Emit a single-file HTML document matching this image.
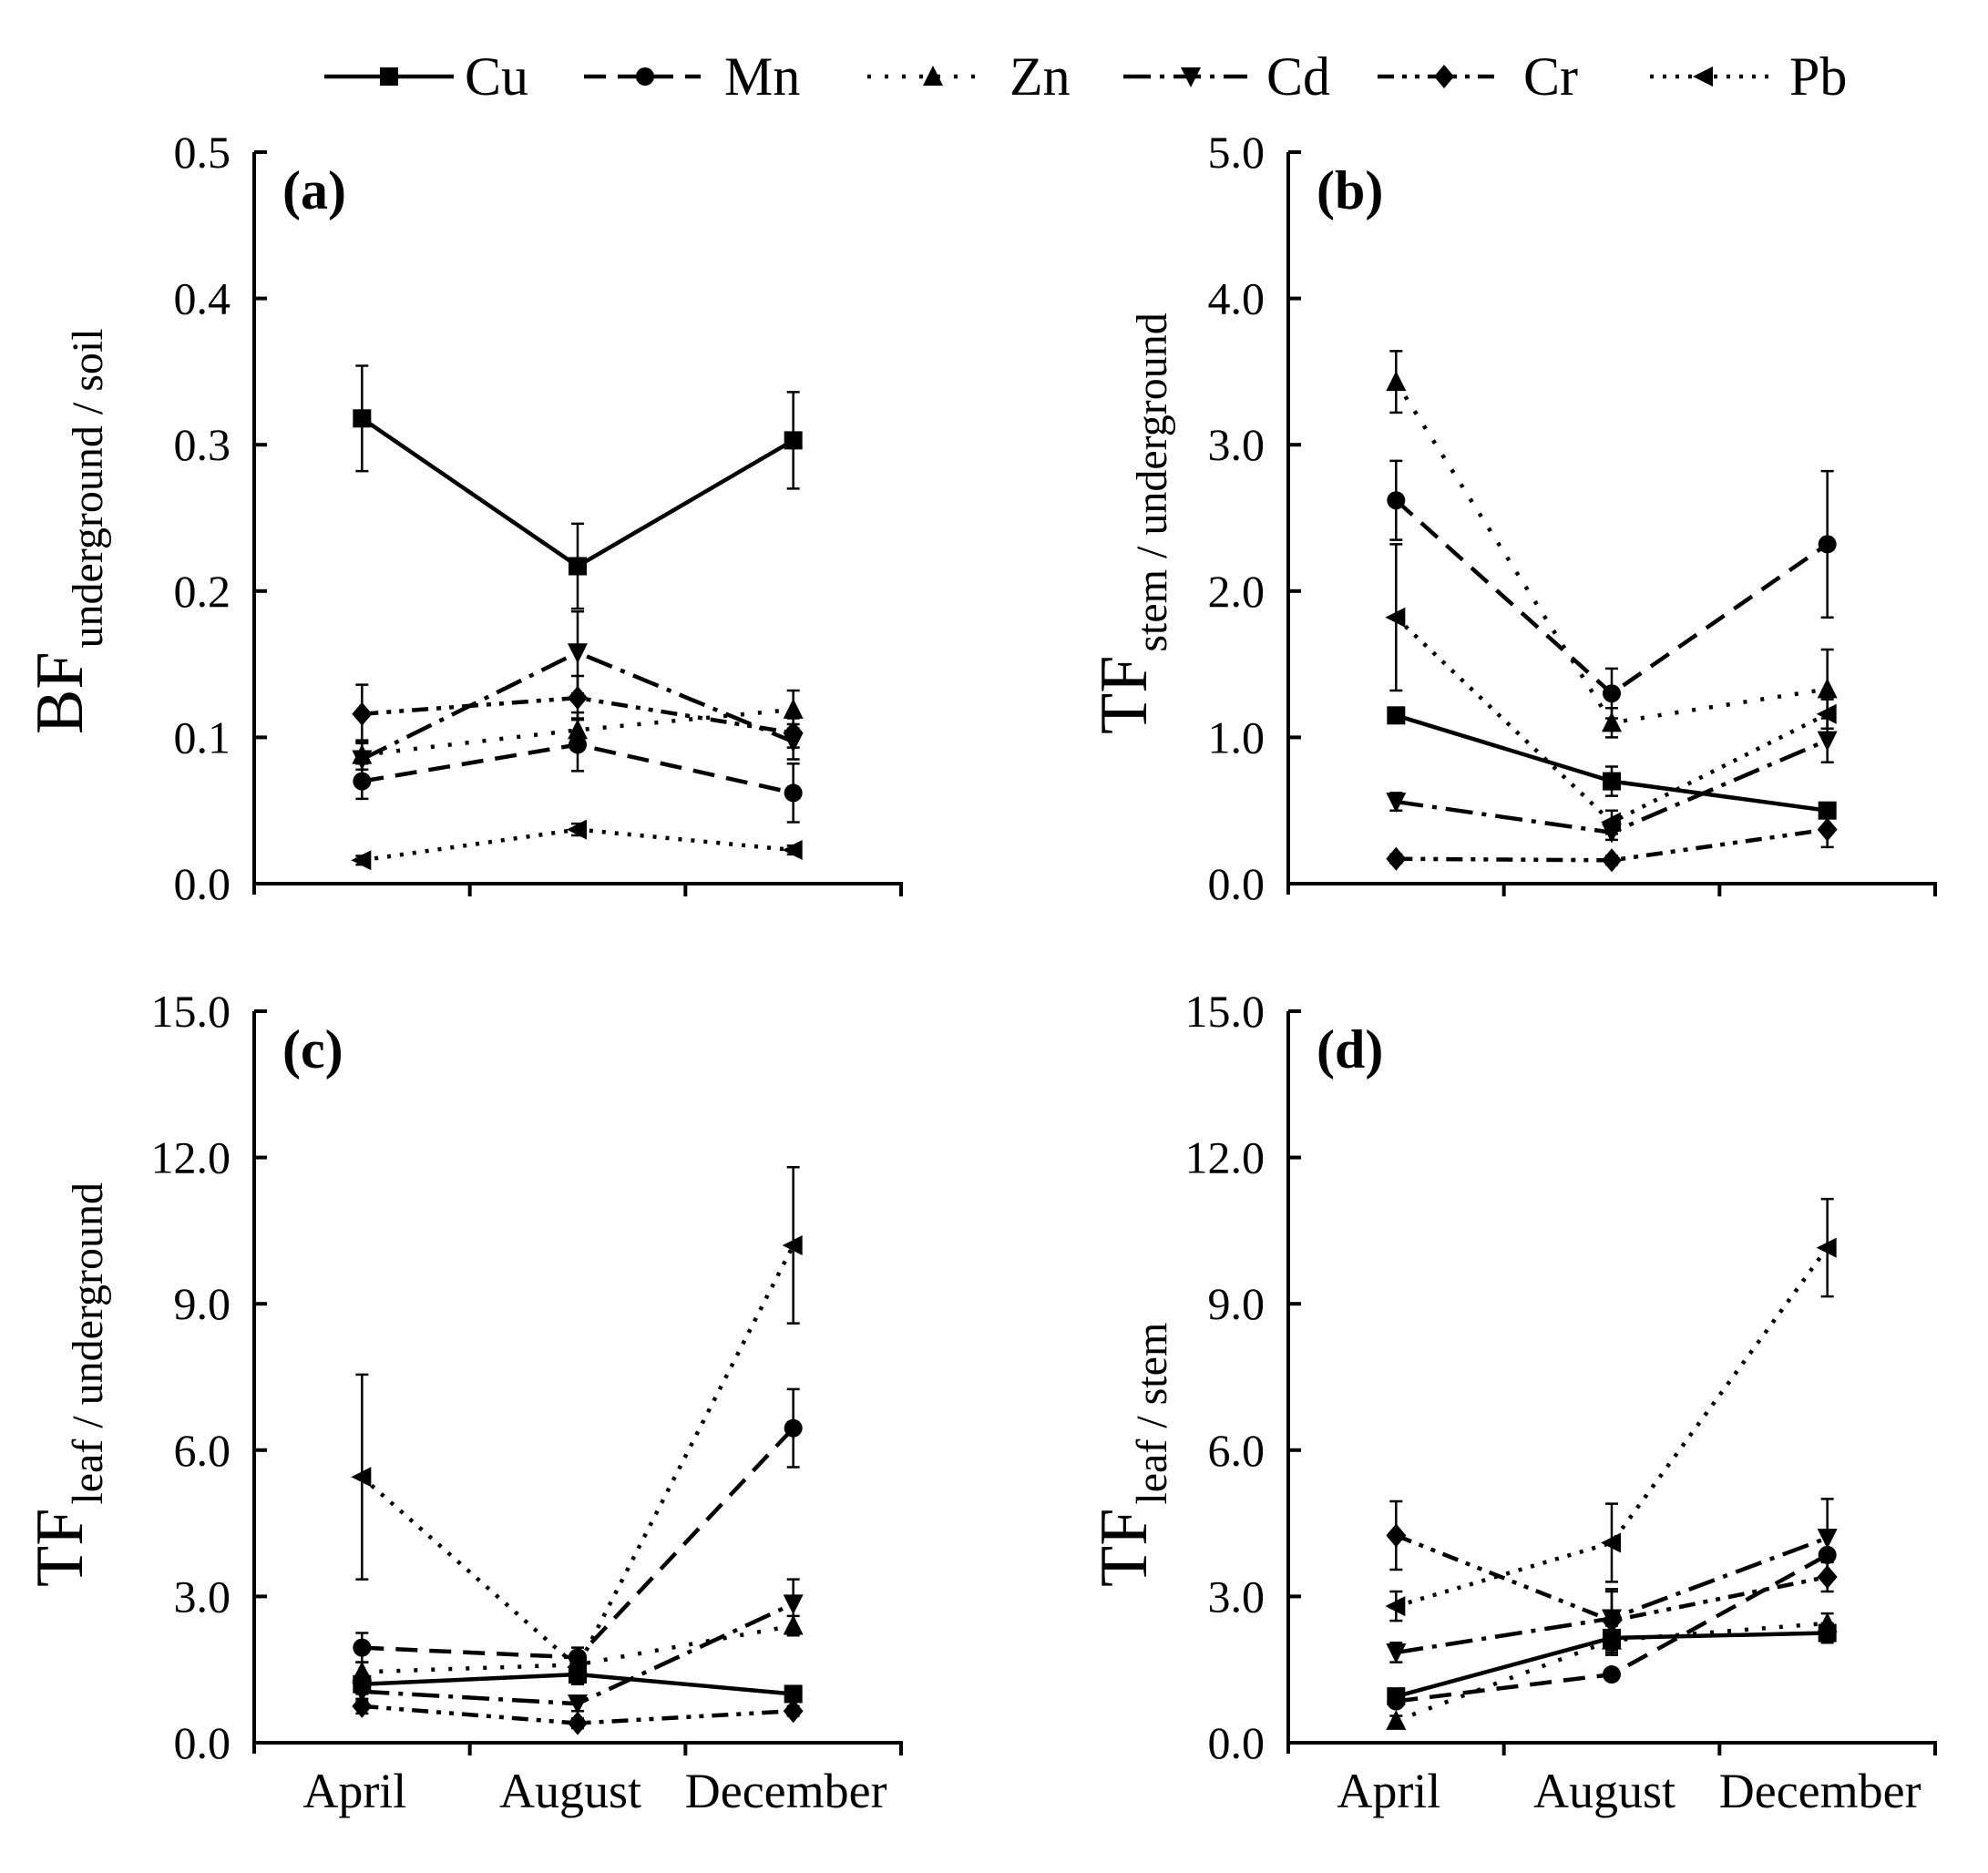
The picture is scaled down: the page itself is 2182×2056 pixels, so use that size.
<!DOCTYPE html>
<html><head><meta charset="utf-8"><style>
html,body{margin:0;padding:0;background:#fff;}
svg{display:block;font-family:"Liberation Serif",serif;}
</style></head>
<body>
<svg id="fig" width="2182" height="2056" viewBox="0 0 2182 2056" xmlns="http://www.w3.org/2000/svg">
<g id="legend"></g>
<g id="panels"></g>
</svg>
<script>
// ---- data ----
const categories = ["April","August","December"];
const metals = ["Cu","Mn","Zn","Cd","Cr","Pb"];
// panel (a) BF underground/soil
const aCu=[0.318,0.217,0.303], aMn=[0.070,0.095,0.062], aZn=[0.088,0.105,0.119], aCd=[0.085,0.158,0.097], aCr=[0.116,0.127,0.103], aPb=[0.016,0.037,0.023];
const aErrCu=[0.036,0.029,0.033], aErrMn=[0.012,0.018,0.020], aErrZn=[0.010,0.012,0.013], aErrCd=[0.012,0.028,0.012], aErrCr=[0.020,0.015,0.010], aErrPb=[0.003,0.004,0.003];
// panel (b) TF stem/underground
const bCu=[1.15,0.70,0.50], bMn=[2.62,1.30,2.32], bZn=[3.43,1.10,1.33], bCd=[0.56,0.35,0.98], bCr=[0.17,0.16,0.37], bPb=[1.82,0.42,1.16];
const bErrCu=[0.05,0.10,0.05], bErrMn=[0.27,0.17,0.50], bErrZn=[0.21,0.10,0.27], bErrCd=[0.06,0.05,0.15], bErrCr=[0.03,0.03,0.12], bErrPb=[0.50,0.08,0.10];
// panel (c) TF leaf/underground
const cCu=[1.2,1.4,1.0], cMn=[1.95,1.75,6.45], cZn=[1.45,1.6,2.4], cCd=[1.05,0.8,2.85], cCr=[0.75,0.4,0.65], cPb=[5.45,1.55,10.2];
const cErrCu=[0.2,0.2,0.1], cErrMn=[0.3,0.2,0.8], cErrZn=[0.2,0.2,0.2], cErrCd=[0.2,0.15,0.5], cErrCr=[0.15,0.1,0.1], cErrPb=[2.1,0.25,1.6];
// panel (d) TF leaf/stem
const dCu=[0.95,2.15,2.25], dMn=[0.85,1.4,3.85], dZn=[0.45,2.1,2.45], dCd=[1.85,2.55,4.2], dCr=[4.25,2.5,3.4], dPb=[2.8,4.1,10.15];
const dErrCu=[0.15,0.3,0.2], dErrMn=[0.1,0.1,0.4], dErrZn=[0.1,0.3,0.2], dErrCd=[0.2,0.6,0.8], dErrCr=[0.7,0.6,0.3], dErrPb=[0.3,0.8,1.0];
const ticksA=["0.0","0.1","0.2","0.3","0.4","0.5"];
const ticksB=["0.0","1.0","2.0","3.0","4.0","5.0"];
const ticksCD=["0.0","3.0","6.0","9.0","12.0","15.0"];

const NS="http://www.w3.org/2000/svg";
function mk(tag,attrs,parent){const e=document.createElementNS(NS,tag);for(const k in attrs)e.setAttribute(k,attrs[k]);parent.appendChild(e);return e;}
const styles={
 Cu:{dash:"none",w:4.5},
 Mn:{dash:"24,13",w:4.5},
 Zn:{dash:"4,15",w:4.5},
 Cd:{dash:"30,10,5,10",w:4.5},
 Cr:{dash:"18,9,5,9,5,9",w:4.5},
 Pb:{dash:"4,10",w:4.5}
};
function marker(m,x,y,parent){
 const s=10;let e;
 if(m==="Cu") e=mk("rect",{x:x-s,y:y-s,width:2*s,height:2*s,fill:"#000"},parent);
 else if(m==="Mn") e=mk("circle",{cx:x,cy:y,r:s,fill:"#000"},parent);
 else if(m==="Zn") e=mk("polygon",{points:`${x},${y-s-2} ${x-s-1},${y+s} ${x+s+1},${y+s}`,fill:"#000"},parent);
 else if(m==="Cd") e=mk("polygon",{points:`${x},${y+s+2} ${x-s-1},${y-s} ${x+s+1},${y-s}`,fill:"#000"},parent);
 else if(m==="Cr") e=mk("polygon",{points:`${x},${y-s-3} ${x+s+1},${y} ${x},${y+s+3} ${x-s-1},${y}`,fill:"#000"},parent);
 else e=mk("polygon",{points:`${x-s-2},${y} ${x+s},${y-s-1} ${x+s},${y+s+1}`,fill:"#000"},parent);
 
 
 return e;
}
// legend
const leg=document.getElementById("legend");
const legPos=[[356,498,427,510],[641,769,708,795],[952,1084,1024,1108],[1233,1369,1307,1390],[1512,1647,1585,1672],[1811,1946,1870,1964]];
metals.forEach((m,i)=>{
 const g=mk("g",{},leg);
 
 
 const p=legPos[i];
 mk("line",{x1:p[0],x2:p[1],y1:84,y2:84,stroke:"#000","stroke-width":styles[m].w,"stroke-dasharray":styles[m].dash},g);
 marker(m,p[2],84,g);
 const t=mk("text",{x:p[3],y:104,"font-size":60},g);t.textContent=m;
});

const panels=[
 {id:"a",x0:279,x1:989,top:167,bot:970,max:0.5,ticks:ticksA,series:[aCu,aMn,aZn,aCd,aCr,aPb],errs:[aErrCu,aErrMn,aErrZn,aErrCd,aErrCr,aErrPb],main:"BF",sub:"underground / soil",tx:90,ty:806,xl:false},
 {id:"b",x0:1414,x1:2124,top:167,bot:970,max:5,ticks:ticksB,series:[bCu,bMn,bZn,bCd,bCr,bPb],errs:[bErrCu,bErrMn,bErrZn,bErrCd,bErrCr,bErrPb],main:"TF",sub:"stem / underground",tx:1258,ty:806,xl:false},
 {id:"c",x0:279,x1:989,top:1110,bot:1913,max:15,ticks:ticksCD,series:[cCu,cMn,cZn,cCd,cCr,cPb],errs:[cErrCu,cErrMn,cErrZn,cErrCd,cErrCr,cErrPb],main:"TF",sub:"leaf / underground",tx:90,ty:1742,xl:true},
 {id:"d",x0:1414,x1:2124,top:1110,bot:1913,max:15,ticks:ticksCD,series:[dCu,dMn,dZn,dCd,dCr,dPb],errs:[dErrCu,dErrMn,dErrZn,dErrCd,dErrCr,dErrPb],main:"TF",sub:"leaf / stem",tx:1258,ty:1742,xl:true}
];
const root=document.getElementById("panels");
panels.forEach(P=>{
 const g=mk("g",{},root);
 
 
 const W=P.x1-P.x0;
 const xs=i=>P.x0+W*(2*i+1)/6;
 const ys=v=>P.bot-(v/P.max)*(P.bot-P.top);
 const ax=mk("path",{d:`M${P.x0},${P.top} V${P.bot+12} M${P.x0},${P.bot} H${P.x1} V${P.bot+14} M${P.x0+W/3},${P.bot} v14 M${P.x0+2*W/3},${P.bot} v14`,stroke:"#000","stroke-width":4,fill:"none"},g);
 
 
 P.ticks.forEach((t,i)=>{
  const v=P.max*i/(P.ticks.length-1);const y=ys(v);
  mk("line",{x1:P.x0,x2:P.x0+14,y1:y,y2:y,stroke:"#000","stroke-width":4},g);
  const tx=mk("text",{x:P.x0-26,y:y+17,"font-size":50,"text-anchor":"end"},g);tx.textContent=t;
  
  
 });
 if(P.xl){categories.forEach((c,i)=>{
  const t=mk("text",{x:xs(i)-8,y:1984,"font-size":54,"text-anchor":"middle"},g);t.textContent=c;
  
  
 });}
 const lab=mk("text",{x:P.x0+31,y:P.top+62,"font-size":60,"font-weight":"bold"},g);lab.textContent="("+P.id+")";
 
 
 const yt=mk("text",{x:P.tx,y:P.ty,transform:`rotate(-90 ${P.tx} ${P.ty})`,"font-size":74},g);
 
 
 const t1=mk("tspan",{},yt);t1.textContent=P.main;
 const t2=mk("tspan",{"font-size":48,dy:22,dx:4},yt);t2.textContent=P.sub;
 P.series.forEach((vals,k)=>{
  const m=metals[k];
  const sg=mk("g",{},g);
  
  
  vals.forEach((v,i)=>{
   const e=P.errs[k][i];const x=xs(i);
   mk("path",{d:`M${x},${ys(v+e)} V${ys(Math.max(0,v-e))} M${x-7},${ys(v+e)} h14 M${x-7},${ys(Math.max(0,v-e))} h14`,stroke:"#000","stroke-width":2.5,fill:"none"},sg);
  });
  const pts=vals.map((v,i)=>xs(i)+","+ys(v)).join(" ");
  const pl=mk("polyline",{points:pts,fill:"none",stroke:"#000","stroke-width":styles[m].w,"stroke-dasharray":styles[m].dash},sg);
  
  
  vals.forEach((v,i)=>marker(m,xs(i),ys(v),sg));
 });
});
</script>
</body></html>
